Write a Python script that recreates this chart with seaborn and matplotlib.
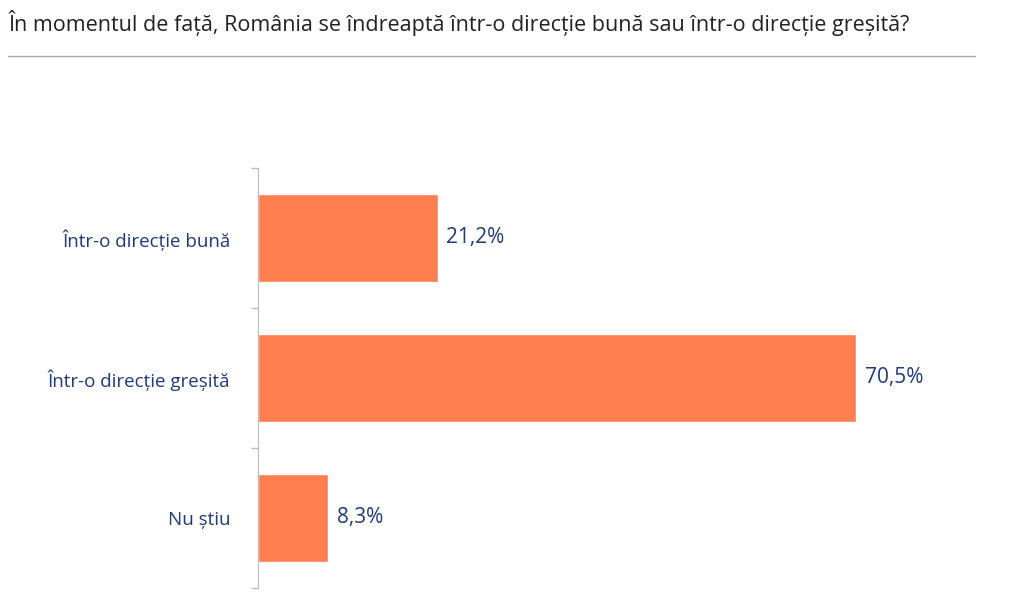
import matplotlib
matplotlib.use("Agg")
import matplotlib.pyplot as plt
import seaborn as sns
import pandas as pd

categories = ["Într-o direcție bună", "Într-o direcție greșită", "Nu știu"]
values = [21.2, 70.5, 8.3]
labels = ["21,2%", "70,5%", "8,3%"]

sns.set_style("white")
plt.rcParams['font.family'] = ['Open Sans', 'DejaVu Sans']

fig = plt.figure(figsize=(10.24, 6.06), dpi=100)
ax = fig.add_axes([0.252, 0.03, 0.725, 0.693])
df = pd.DataFrame({"cat": categories, "val": values})
sns.barplot(data=df, y="cat", x="val", orient="h", color="#FF7F50", width=0.63, ax=ax, saturation=1)
ax.set_xlim(0, 87.5)
ax.set_ylim(2.5, -0.5)
ax.set_xlabel(""); ax.set_ylabel("")
for s in ["top", "right", "bottom"]:
    ax.spines[s].set_visible(False)
ax.spines["left"].set_color("#BBBBBB")
ax.set_xticks([])
ax.set_yticks(range(3))
ax.set_yticklabels(categories, color="#1F3A7A", fontsize=13.5)
ax.tick_params(axis="y", length=0, pad=20)
ax.set_yticks([-0.5, 0.5, 1.5, 2.5], minor=True)
ax.tick_params(axis="y", which="minor", left=True, length=5, width=1, color="#BBBBBB", direction="out")
for i, (v, l) in enumerate(zip(values, labels)):
    ax.text(v + 1, i, l, va="center", ha="left", color="#1F3A7A", fontsize=15)

fig.text(0.008, 0.962, "În momentul de față, România se îndreaptă într-o direcție bună sau într-o direcție greșită?",
         fontsize=15.5, color="#222222", va="center", ha="left")
fig.add_artist(plt.Line2D([0.008, 0.952], [0.907, 0.907], color="#AAAAAA", lw=1, transform=fig.transFigure))
fig.savefig("out.png", dpi=100)
